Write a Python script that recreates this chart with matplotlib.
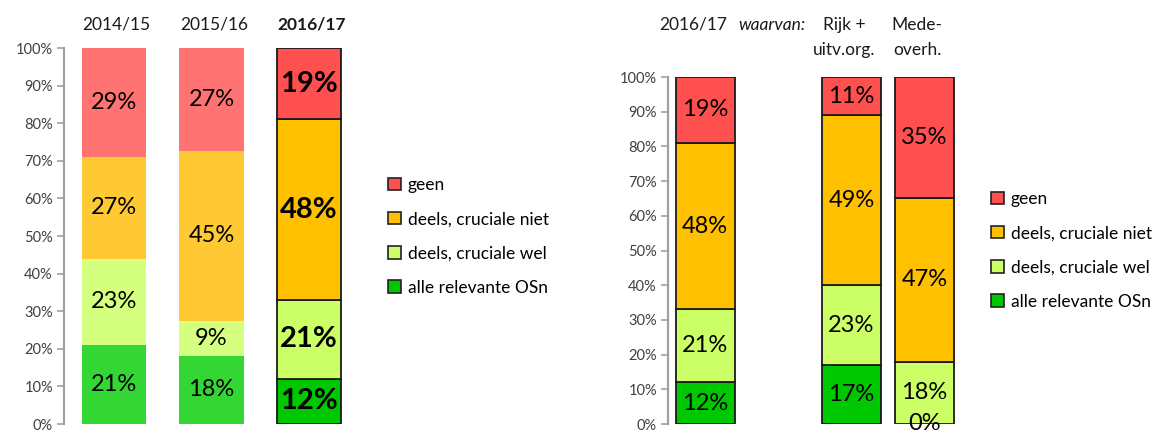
import matplotlib
matplotlib.use("Agg")
import matplotlib.pyplot as plt
from matplotlib.patches import Patch
from matplotlib.transforms import blended_transform_factory

plt.rcParams['font.family'] = ['Lato', 'DejaVu Sans']

# ---- data ----
series = ["alle relevante OSn", "deels, cruciale wel", "deels, cruciale niet", "geen"]
left_periods = ["2014/15", "2015/16", "2016/17"]
left_values = {
    "alle relevante OSn":   [21, 18, 12],
    "deels, cruciale wel":  [23, 9, 21],
    "deels, cruciale niet": [27, 45, 48],
    "geen":                 [29, 27, 19],
}
right_groups = ["2016/17", "Rijk + uitv.org.", "Mede-overh."]
right_values = {
    "alle relevante OSn":   [12, 17, 0],
    "deels, cruciale wel":  [21, 23, 18],
    "deels, cruciale niet": [48, 49, 47],
    "geen":                 [19, 11, 35],
}
yticks = [0, 10, 20, 30, 40, 50, 60, 70, 80, 90, 100]

# ---- styles ----
strong = {"alle relevante OSn": "#00C800", "deels, cruciale wel": "#CCFF66",
          "deels, cruciale niet": "#FFC000", "geen": "#FF5050"}
faded = {"alle relevante OSn": "#33D633", "deels, cruciale wel": "#D5FF7F",
         "deels, cruciale niet": "#FFC933", "geen": "#FF7373"}

W, H = 1174, 430
fig = plt.figure(figsize=(W / 100, H / 100), dpi=100)

def style_axis(ax):
    ax.set_ylim(0, 100)
    ax.set_yticks(yticks)
    ax.set_yticklabels([f"{t}%" for t in yticks], fontsize=10.5, color="#404040")
    for s in ["top", "right", "bottom"]:
        ax.spines[s].set_visible(False)
    ax.spines["left"].set_color("#A0A0A0")
    ax.spines["left"].set_linewidth(1.6)
    ax.tick_params(axis="y", colors="#A0A0A0", labelcolor="#404040", length=5, width=1.2, pad=3)
    ax.set_xticks([])
    ax.patch.set_alpha(0)

def totals(values, n):
    return [sum(values[s][i] for s in series) for i in range(n)]

# ---- left chart (100% stacked: segments normalised to column total) ----
axL = fig.add_axes([64 / W, 6 / H, (359 - 64) / W, 376 / H])
style_axis(axL)
xl = list(range(len(left_periods)))
axL.set_xlim(-0.51, 2.51)
totL = totals(left_values, len(xl))
bottoms = [0.0] * len(xl)
for s in series:
    vals = left_values[s]
    for i, x in enumerate(xl):
        h = vals[i] / totL[i] * 100
        bold = i == 2
        axL.bar(x, h, width=0.66, bottom=bottoms[i],
                color=strong[s] if bold else faded[s],
                edgecolor="#1a1a1a" if bold else "none", linewidth=1.3 if bold else 0)
        axL.text(x, bottoms[i] + h / 2, f"{vals[i]}%", ha="center", va="center",
                 fontsize=21 if bold else 17, fontweight="bold" if bold else "normal",
                 color="black")
        bottoms[i] += h

trL = blended_transform_factory(axL.transData, fig.transFigure)
for i, p in enumerate(left_periods):
    axL.text(xl[i] + 0.03, 1 - 25 / H, p, transform=trL, ha="center", va="center",
             fontsize=12.5, fontweight="bold" if i == 2 else "normal", color="#1a1a1a")

handles = [Patch(facecolor=strong[s], edgecolor="#222222", linewidth=1.2, label=s)
           for s in reversed(series)]
fig.legend(handles=handles, loc="upper left", bbox_to_anchor=(381 / W, 1 - 170 / H),
           frameon=False, fontsize=12.5, handlelength=0.75, handleheight=0.75,
           handletextpad=0.4, labelspacing=1.05, borderaxespad=0)

# ---- right chart ----
axR = fig.add_axes([668 / W, 6 / H, (961 - 668) / W, 347 / H])
style_axis(axR)
xr = [0, 2, 3]
axR.set_xlim(-0.51, 3.5)
totR = totals(right_values, len(xr))
bottoms = [0.0] * len(xr)
for s in series:
    vals = right_values[s]
    for i, x in enumerate(xr):
        h = vals[i] / totR[i] * 100
        axR.bar(x, h, width=0.81, bottom=bottoms[i], color=strong[s],
                edgecolor="#1a1a1a", linewidth=1.3)
        axR.text(x, bottoms[i] + h / 2, f"{vals[i]}%", ha="center", va="center",
                 fontsize=17, color="black", clip_on=False)
        bottoms[i] += h

trR = blended_transform_factory(axR.transData, fig.transFigure)
axR.text(-0.16, 1 - 25 / H, "2016/17", transform=trR, ha="center", va="center",
         fontsize=12.5, color="#1a1a1a")
axR.text(0.91, 1 - 25 / H, "waarvan:", transform=trR, ha="center", va="center",
         fontsize=12.5, style="italic", color="#1a1a1a")
axR.text(1.90, 1 - 25 / H, "Rijk +", transform=trR, ha="center", va="center",
         fontsize=12.5, color="#1a1a1a")
axR.text(1.90, 1 - 50 / H, "uitv.org.", transform=trR, ha="center", va="center",
         fontsize=12.5, color="#1a1a1a")
axR.text(2.90, 1 - 25 / H, "Mede-", transform=trR, ha="center", va="center",
         fontsize=12.5, color="#1a1a1a")
axR.text(2.90, 1 - 50 / H, "overh.", transform=trR, ha="center", va="center",
         fontsize=12.5, color="#1a1a1a")

fig.legend(handles=handles, loc="upper left", bbox_to_anchor=(984 / W, 1 - 184 / H),
           frameon=False, fontsize=12.5, handlelength=0.75, handleheight=0.75,
           handletextpad=0.4, labelspacing=1.05, borderaxespad=0)

fig.savefig("out.png", dpi=100)
